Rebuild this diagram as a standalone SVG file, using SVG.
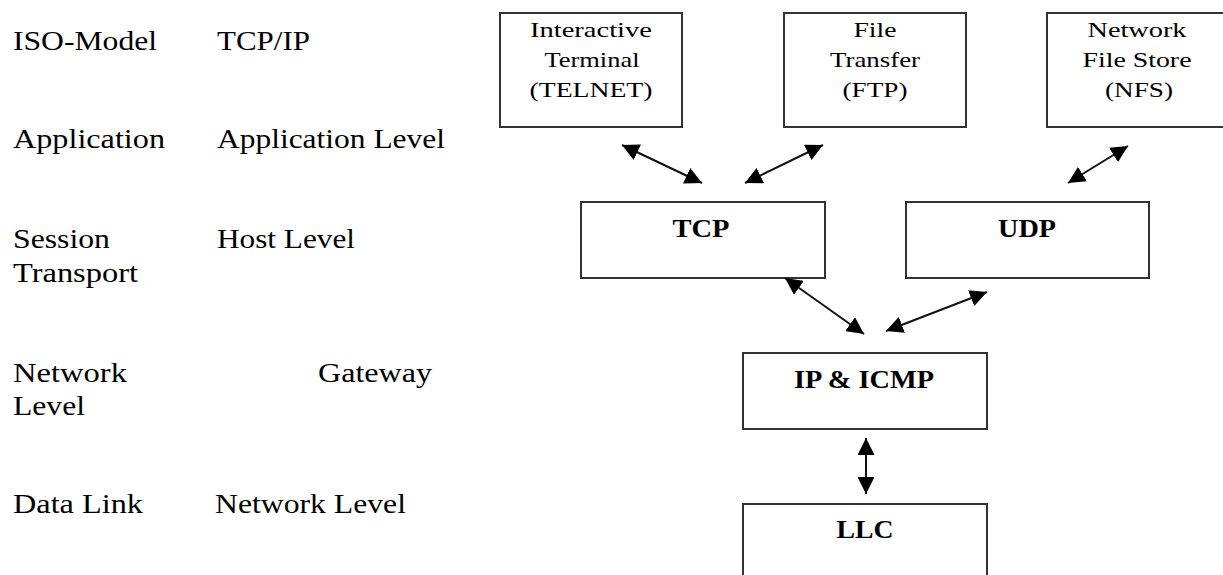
<svg xmlns="http://www.w3.org/2000/svg" width="1223" height="575" viewBox="0 0 1223 575">
<style>
.lbl{font-family:"Liberation Serif","Times New Roman",serif;font-size:28px;fill:#000}
.bt{font-family:"Liberation Serif","Times New Roman",serif;font-size:22px;fill:#000;text-anchor:middle}
.bb{font-family:"Liberation Serif","Times New Roman",serif;font-size:26px;font-weight:bold;fill:#000;text-anchor:middle}
.box{fill:#fff;stroke:#333;stroke-width:2}
.conn{stroke:#111;stroke-width:2;fill:none;marker-start:url(#ah);marker-end:url(#ah)}
</style>
<defs>
<marker id="ah" markerUnits="userSpaceOnUse" markerWidth="17" markerHeight="17" refX="16" refY="8" orient="auto-start-reverse" viewBox="0 0 16 16">
<path d="M0,0 L16,8 L0,16 z" fill="#000"/>
</marker>
</defs>
<rect width="1223" height="575" fill="#fff"/>
<g id="legend">
<text class="lbl" x="13" y="50" textLength="144" lengthAdjust="spacingAndGlyphs">ISO-Model</text>
<text class="lbl" x="217" y="50" textLength="93" lengthAdjust="spacingAndGlyphs">TCP/IP</text>
<text class="lbl" x="13" y="148" textLength="152" lengthAdjust="spacingAndGlyphs">Application</text>
<text class="lbl" x="217" y="148" textLength="228" lengthAdjust="spacingAndGlyphs">Application Level</text>
<text class="lbl" x="13" y="248" textLength="97" lengthAdjust="spacingAndGlyphs">Session</text>
<text class="lbl" x="217" y="248" textLength="138" lengthAdjust="spacingAndGlyphs">Host Level</text>
<text class="lbl" x="13" y="282" textLength="125" lengthAdjust="spacingAndGlyphs">Transport</text>
<text class="lbl" x="13" y="382" textLength="114" lengthAdjust="spacingAndGlyphs">Network</text>
<text class="lbl" x="13" y="415" textLength="72" lengthAdjust="spacingAndGlyphs">Level</text>
<text class="lbl" x="318" y="382" textLength="114" lengthAdjust="spacingAndGlyphs">Gateway</text>
<text class="lbl" x="13" y="513" textLength="130" lengthAdjust="spacingAndGlyphs">Data Link</text>
<text class="lbl" x="215" y="513" textLength="191" lengthAdjust="spacingAndGlyphs">Network Level</text>
</g>
<g id="telnet">
<rect class="box" x="500" y="13" width="182" height="114"/>
<text class="bt" x="591" y="37" textLength="122" lengthAdjust="spacingAndGlyphs">Interactive</text>
<text class="bt" x="592" y="67" textLength="95" lengthAdjust="spacingAndGlyphs">Terminal</text>
<text class="bt" x="591" y="97" textLength="123" lengthAdjust="spacingAndGlyphs">(TELNET)</text>
</g>
<g id="ftp">
<rect class="box" x="784" y="13" width="182" height="114"/>
<text class="bt" x="875" y="37" textLength="43" lengthAdjust="spacingAndGlyphs">File</text>
<text class="bt" x="875" y="67" textLength="90" lengthAdjust="spacingAndGlyphs">Transfer</text>
<text class="bt" x="875" y="97" textLength="65" lengthAdjust="spacingAndGlyphs">(FTP)</text>
</g>
<g id="nfs">
<rect class="box" x="1047" y="13" width="182" height="114"/>
<text class="bt" x="1137" y="37" textLength="99" lengthAdjust="spacingAndGlyphs">Network</text>
<text class="bt" x="1137" y="67" textLength="109" lengthAdjust="spacingAndGlyphs">File Store</text>
<text class="bt" x="1139" y="97" textLength="68" lengthAdjust="spacingAndGlyphs">(NFS)</text>
</g>
<g id="tcp">
<rect class="box" x="581" y="202" width="244" height="76"/>
<text class="bb" x="701" y="237" textLength="57" lengthAdjust="spacingAndGlyphs">TCP</text>
</g>
<g id="udp">
<rect class="box" x="906" y="202" width="243" height="76"/>
<text class="bb" x="1027" y="237" textLength="58" lengthAdjust="spacingAndGlyphs">UDP</text>
</g>
<g id="ip">
<rect class="box" x="743" y="353" width="244" height="76"/>
<text class="bb" x="864" y="388" textLength="140" lengthAdjust="spacingAndGlyphs">IP &amp; ICMP</text>
</g>
<g id="llc">
<rect class="box" x="743" y="504" width="244" height="80"/>
<text class="bb" x="865" y="538" textLength="57" lengthAdjust="spacingAndGlyphs">LLC</text>
</g>
<g id="connectors">
<line class="conn" x1="622" y1="145" x2="702" y2="183"/>
<line class="conn" x1="745" y1="183" x2="823" y2="145"/>
<line class="conn" x1="1068" y1="183" x2="1128" y2="146"/>
<line class="conn" x1="785" y1="278" x2="864" y2="334"/>
<line class="conn" x1="886" y1="331" x2="987" y2="292"/>
<line class="conn" x1="866" y1="438" x2="866" y2="494"/>
</g>
</svg>
